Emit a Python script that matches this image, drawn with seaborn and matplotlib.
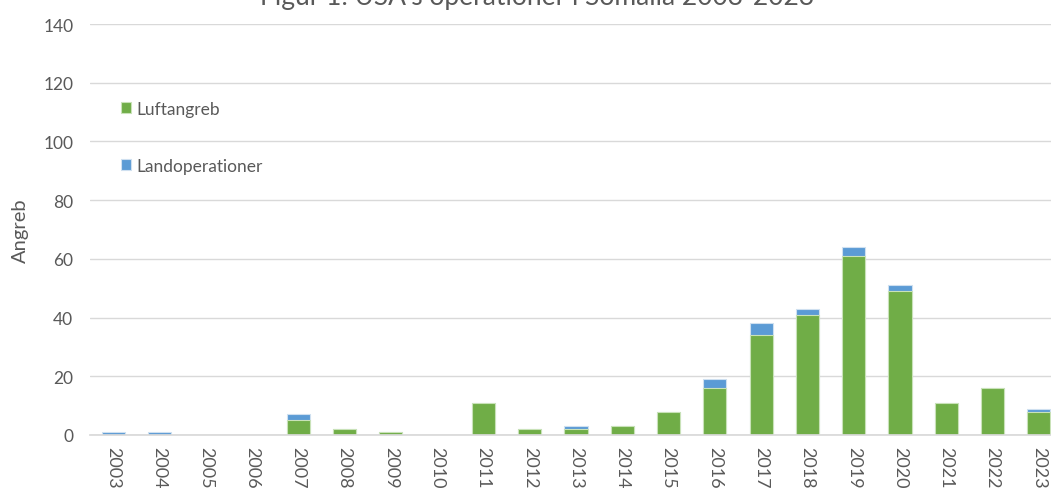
import matplotlib
matplotlib.use("Agg")
import matplotlib.pyplot as plt
import seaborn as sns
import pandas as pd
import numpy as np

years = [str(y) for y in range(2003, 2024)]
luftangreb = [0, 0, 0, 0, 5, 2, 1, 0, 11, 2, 2, 3, 8, 16, 34, 41, 61, 49, 11, 16, 8]
landoperationer = [1, 1, 0, 0, 2, 0, 0, 0, 0, 0, 1, 0, 0, 3, 4, 2, 3, 2, 0, 0, 1]

title = "Figur 1: USA's operationer i Somalia 2003-2023"
ylabel = "Angreb"
green = "#70AD47"
blue = "#5B9BD5"
txt = "#595959"

df = pd.DataFrame({"year": years, "Luftangreb": luftangreb,
                   "Landoperationer": landoperationer})
df["total"] = df["Luftangreb"] + df["Landoperationer"]

sns.set_theme(style="white")
plt.rcParams["font.family"] = ["Lato", "DejaVu Sans"]

fig = plt.figure(figsize=(10.51, 4.89), dpi=100)
W, H = 1051, 489
ax = fig.add_axes([90 / W, 1 - 436 / H, (1062 - 90) / W, (436 - 25) / H])

sns.barplot(data=df, x="year", y="total", order=years, color=blue, width=0.5,
            saturation=1, edgecolor="#CFE0F0", linewidth=0.8, ax=ax,
            label="Landoperationer")
sns.barplot(data=df, x="year", y="Luftangreb", order=years, color=green, width=0.5,
            saturation=1, edgecolor="#C9E2B8", linewidth=0.8, ax=ax,
            label="Luftangreb")

ax.set_xlim(-0.5, 20.5)
ax.set_ylim(0, 140)
ax.set_yticks(np.arange(0, 141, 20))
ax.yaxis.grid(True, color="#D9D9D9", linewidth=1)
ax.set_axisbelow(True)
for s in ["top", "right", "left"]:
    ax.spines[s].set_visible(False)
ax.spines["bottom"].set_color("#D9D9D9")
ax.tick_params(axis="y", length=0, pad=12, labelsize=12.5, labelcolor=txt)
ax.tick_params(axis="x", length=0, pad=8, labelsize=13, labelcolor=txt)
plt.setp(ax.get_xticklabels(), rotation=270, va="top", ha="center")
ax.set_xlabel("")
ax.set_ylabel(ylabel, color=txt, fontsize=14.5, labelpad=10)

handles, labels = ax.get_legend_handles_labels()
hmap = dict(zip(labels, handles))
leg = ax.legend([hmap["Luftangreb"], hmap["Landoperationer"]],
                ["Luftangreb", "Landoperationer"],
                loc="upper left", bbox_to_anchor=(0.025, 0.83), frameon=False,
                fontsize=12.5, labelspacing=2.35, handlelength=0.55, handleheight=0.55,
                handletextpad=0.3, labelcolor=txt, borderaxespad=0)

fig.text(537 / W, 1 - 5 / H, title, ha="center", va="baseline", fontsize=19, color=txt)

fig.savefig("out.png", dpi=100)
